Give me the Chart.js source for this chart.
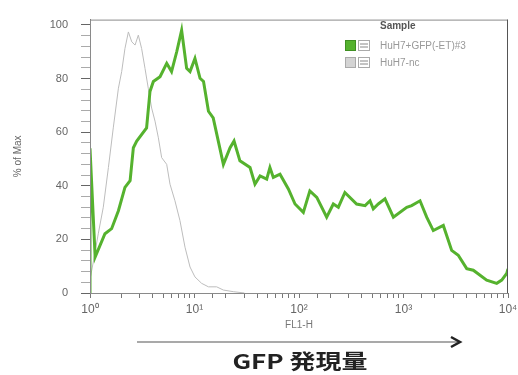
<!DOCTYPE html>
<html>
<head>
<meta charset="utf-8">
<script src="https://cdn.jsdelivr.net/npm/chart.js@4.4.0/dist/chart.umd.min.js"></script>
<style>
  html, body { margin: 0; padding: 0; background: #fff; }
  #wrap { width: 518px; height: 375px; }
</style>
</head>
<body>
<div id="wrap"><canvas id="chart"></canvas></div>
<script>
// FL1-H values (log axis) and % of Max
const greenX = [1, 1, 1.12, 1.39, 1.61, 1.87, 2.16, 2.42, 2.60, 2.80, 3.48, 3.75, 4.04, 4.68, 5.42, 6.03, 6.76, 7.53, 8.41, 9.06,
  10.1, 11.3, 12.2, 13.6, 15.1, 18.9, 21.9, 23.9, 27.2, 34.0, 37.9, 42.4, 49.1, 52.7, 56.8, 65.8, 79.1, 91.6,
  110, 127, 148, 184, 213, 238, 275, 356, 429, 478, 514, 574, 665, 800,
  1074, 1197, 1439, 1667, 1928, 2404, 2891, 3342, 4027, 4656, 6252, 7798, 8710, 9727, 10000];
const greenY = [0, 54, 13.4, 22.1, 24, 30.7, 39.4, 41.9, 54.2, 56.7, 61.6, 75.2, 78.9, 80.7, 85.7, 82.6, 90, 98, 83.8, 82.6,
  87.5, 80.1, 78.9, 67.8, 65.3, 48, 54.2, 56.7, 49.3, 46.8, 40.6, 43.7, 42.5, 46.8, 43.1, 44.3, 38.8, 33.2,
  30.1, 38.1, 35.7, 28.3, 33.2, 32, 37.5, 33.2, 32.6, 34.4, 31.4, 33.2, 35.1, 28.3,
  32, 32.6, 34.4, 28.3, 23.3, 25.2, 15.9, 14.1, 9.1, 8.5, 4.8, 3.6, 4.8, 7.3, 9];

const grayX = [1, 1.08, 1.20, 1.34, 1.50, 1.67, 1.87, 2.01, 2.16, 2.33, 2.51, 2.70, 2.90, 3.12, 3.36, 3.61, 3.89, 4.19,
  4.51, 4.85, 5.42, 5.83, 6.50, 7.26, 8.11, 9.06, 10.1, 11.7, 13.6, 16.3, 18.9, 23.5, 30];
const grayY = [5, 12, 22.1, 32, 46.8, 61.6, 76.4, 82.6, 91.2, 97.4, 93.7, 92.5, 96.2, 91.2, 83.8, 76.4, 69, 64.1,
  57.9, 50.5, 48, 40.6, 34.4, 27, 17.1, 9.7, 6, 3.6, 2.3, 2.3, 1.1, 0.5, 0];

const seriesNames = ['HuH7+GFP(-ET)#3', 'HuH7-nc'];
const xTickLabels = {1: '10\u2070', 10: '10\u00b9', 100: '10\u00b2', 1000: '10\u00b3', 10000: '10\u2074'};
const yTicks = [0, 20, 40, 60, 80, 100];

const toPoints = (xs, ys) => xs.map((x, i) => ({x: x, y: ys[i]}));

const overlay = {
  id: 'overlay',
  afterDraw(chart) {
    const {ctx, chartArea: a} = chart;
    ctx.save();
    // frame round the plot
    ctx.strokeStyle = '#8a8a8a';
    ctx.lineWidth = 1;
    ctx.strokeRect(a.left + 0.5, a.top + 0.5, a.right - a.left - 1, a.bottom - a.top);
    ctx.strokeStyle = '#555';
    ctx.beginPath();
    ctx.moveTo(a.right - 0.5, a.top);
    ctx.lineTo(a.right - 0.5, a.bottom);
    ctx.stroke();

    // legend
    ctx.fillStyle = '#555';
    ctx.font = 'bold 10px "Liberation Sans", Arial, sans-serif';
    ctx.textBaseline = 'middle';
    ctx.fillText('Sample', 380, 26);
    ctx.font = '10px "Liberation Sans", Arial, sans-serif';
    chart.data.datasets.forEach((ds, i) => {
      const y = 40 + i * 17;
      ctx.fillStyle = i === 0 ? ds.borderColor : '#d4d4d4';
      ctx.fillRect(345, y, 11, 11);
      ctx.strokeStyle = i === 0 ? '#3f8f22' : '#aaa';
      ctx.strokeRect(345.5, y + 0.5, 10, 10);
      ctx.strokeStyle = '#aaa';
      ctx.strokeRect(358.5, y + 0.5, 11, 10);
      ctx.strokeStyle = '#888';
      ctx.beginPath();
      ctx.moveTo(360, y + 4); ctx.lineTo(368, y + 4);
      ctx.moveTo(360, y + 7); ctx.lineTo(368, y + 7);
      ctx.stroke();
      ctx.fillStyle = '#999';
      ctx.fillText(ds.label, 380, y + 6);
    });

    // arrow and caption
    ctx.strokeStyle = '#555';
    ctx.lineWidth = 1.2;
    ctx.beginPath();
    ctx.moveTo(137, 342);
    ctx.lineTo(458, 342);
    ctx.stroke();
    ctx.strokeStyle = '#222';
    ctx.lineWidth = 2.5;
    ctx.beginPath();
    ctx.moveTo(451, 337);
    ctx.lineTo(460, 342);
    ctx.lineTo(451, 347);
    ctx.stroke();
    ctx.fillStyle = '#222';
    ctx.font = 'bold 20px "Noto Sans CJK JP", sans-serif';
    ctx.textAlign = 'center';
    ctx.translate(300, 361);
    ctx.scale(1.3, 1);
    ctx.fillText('GFP 発現量', 0, 0);
    ctx.restore();
  }
};

new Chart(document.getElementById('chart'), {
  type: 'line',
  data: {
    datasets: [
      {
        label: seriesNames[0],
        data: toPoints(greenX, greenY),
        borderColor: '#55b22e',
        borderWidth: 3,
        pointRadius: 0,
        tension: 0
      },
      {
        label: seriesNames[1],
        data: toPoints(grayX, grayY),
        borderColor: '#bdbdbd',
        borderWidth: 1,
        pointRadius: 0,
        tension: 0
      }
    ]
  },
  options: {
    responsive: true,
    maintainAspectRatio: false,
    animation: false,
    layout: { padding: { top: 16, right: 10, left: 0, bottom: 0 } },
    scales: {
      x: {
        type: 'logarithmic',
        min: 1,
        max: 10000,
        afterFit(scale) {
          scale.height = 82;
          scale.paddingLeft = 0;
          scale.paddingRight = 0;
        },
        grid: { drawOnChartArea: false, tickLength: 5, color: '#777' },
        border: { color: '#777' },
        ticks: {
          autoSkip: false,
          maxRotation: 0,
          padding: 4,
          color: '#666',
          font: { size: 12, family: '"Liberation Sans", Arial, sans-serif' },
          callback: (v) => xTickLabels[v] || ''
        },
        title: {
          display: true,
          text: 'FL1-H',
          color: '#777',
          font: { size: 10, family: '"Liberation Sans", Arial, sans-serif' },
          padding: { top: 0, bottom: 44 }
        }
      },
      y: {
        min: 0,
        max: 102,
        afterFit(scale) { scale.width = 90; },
        afterBuildTicks(scale) {
          const ticks = [];
          for (let v = 0; v <= 100; v += 4) ticks.push({value: v});
          scale.ticks = ticks;
        },
        grid: {
          drawOnChartArea: false,
          tickLength: 9,
          tickColor: (c) => yTicks.includes(c.tick.value) ? '#666' : '#aaa'
        },
        border: { color: '#777' },
        ticks: {
          autoSkip: false,
          padding: 13,
          color: '#666',
          font: { size: 11, family: '"Liberation Sans", Arial, sans-serif' },
          callback: (v) => yTicks.includes(v) ? String(v) : ''
        },
        title: {
          display: true,
          text: '% of Max',
          color: '#666',
          font: { size: 10, family: '"Liberation Sans", Arial, sans-serif' },
          padding: { top: 12, bottom: 0 }
        }
      }
    },
    plugins: {
      legend: { display: false },
      tooltip: { enabled: false }
    }
  },
  plugins: [overlay]
});
</script>
</body>
</html>
